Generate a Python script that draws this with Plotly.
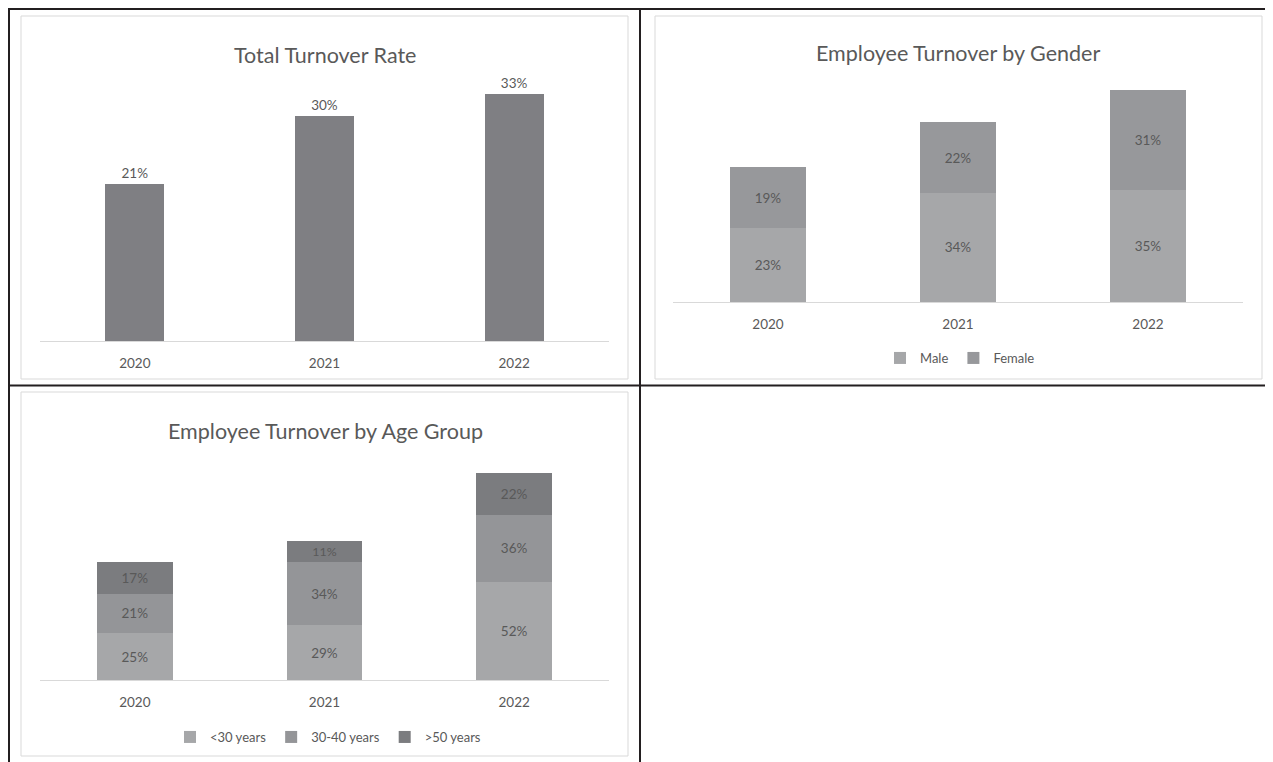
import plotly.graph_objects as go

# data
years = ["2020", "2021", "2022"]
total_rate = [21, 30, 33]

male = [23, 34, 35]
female = [19, 22, 31]

age_under30 = [25, 29, 52]
age_30_40 = [21, 34, 36]
age_over50 = [17, 11, 22]

# the html body has an 8px margin, so the figure is sized and positioned around it
OFF = 8
W, H = 1273 - OFF, 762 - OFF
FONT = "Lato"
TXT = "#595959"


def px(x):
    return (x - OFF) / W


def py(y):
    return 1 - (y - OFF) / H


def pct(vals):
    return [f"{v}%" for v in vals]


fig = go.Figure()

# chart 1 - total turnover
fig.add_trace(go.Bar(x=years, y=total_rate, text=pct(total_rate), textposition="outside",
                     marker=dict(color="#7f7f83", line=dict(width=0)), width=0.31,
                     cliponaxis=False, textfont=dict(color=TXT, size=13.5),
                     showlegend=False, xaxis="x", yaxis="y"))

# chart 2 - by gender
for name, vals, col in [("Male", male, "#a6a7a9"), ("Female", female, "#97989b")]:
    fig.add_trace(go.Bar(x=years, y=vals, name=name, text=pct(vals),
                         textposition="inside", insidetextanchor="middle",
                         marker=dict(color=col, line=dict(width=0)), width=0.4,
                         textfont=dict(color=TXT, size=13.5),
                         legend="legend", xaxis="x2", yaxis="y2"))

# chart 3 - by age group
for name, vals, col in [("<30 years", age_under30, "#a6a7a9"),
                        ("30-40 years", age_30_40, "#949598"),
                        (">50 years", age_over50, "#7b7c7f")]:
    fig.add_trace(go.Bar(x=years, y=vals, name=name, text=pct(vals),
                         textposition="inside", insidetextanchor="middle",
                         marker=dict(color=col, line=dict(width=0)), width=0.4,
                         textfont=dict(color=TXT, size=13.5),
                         legend="legend2", xaxis="x3", yaxis="y3"))

xcommon = dict(showline=True, linecolor="#d9d9d9", linewidth=1, showgrid=False,
               ticks="", ticklabelstandoff=10, fixedrange=True,
               tickfont=dict(color=TXT, size=13.5, family=FONT))
ycommon = dict(visible=False, showgrid=False, zeroline=False, fixedrange=True)

fig.update_layout(
    width=W, height=H,
    margin=dict(l=0, r=0, t=0, b=0),
    paper_bgcolor="white", plot_bgcolor="white",
    font=dict(family=FONT, color=TXT),
    barmode="stack",
    xaxis=dict(domain=[px(40), px(609)], anchor="y", **xcommon),
    yaxis=dict(domain=[py(341), py(78.5)], range=[0, 35], anchor="x", **ycommon),
    xaxis2=dict(domain=[px(673), px(1243)], anchor="y2", **xcommon),
    yaxis2=dict(domain=[py(302), py(77.3)], range=[0, 70], anchor="x2", **ycommon),
    xaxis3=dict(domain=[px(40), px(609)], anchor="y3", **xcommon),
    yaxis3=dict(domain=[py(680), py(454.4)], range=[0, 120], anchor="x3", **ycommon),
    legend=dict(orientation="h", x=px(960), xanchor="center", y=py(358), yanchor="middle",
                font=dict(size=13, color=TXT), itemwidth=30, traceorder="normal"),
    legend2=dict(orientation="h", x=px(328), xanchor="center", y=py(737), yanchor="middle",
                 font=dict(size=13, color=TXT), itemwidth=30, traceorder="normal"),
)

# chart titles
for text, x, y in [("Total Turnover Rate", 325, 55),
                   ("Employee Turnover by Gender", 958, 53),
                   ("Employee Turnover by Age Group", 325, 431)]:
    fig.add_annotation(text=text, x=px(x), y=py(y), xref="paper", yref="paper",
                       showarrow=False, xanchor="center", yanchor="middle",
                       font=dict(size=21.5, color=TXT, family=FONT))

# chart area frames
for x0, y0, x1, y1 in [(21, 16, 628, 379), (655, 16, 1262, 379), (21, 392, 628, 756)]:
    fig.add_shape(type="rect", xref="paper", yref="paper",
                  x0=px(x0), y0=py(y0), x1=px(x1), y1=py(y1),
                  line=dict(color="#d9d9d9", width=1))

# table borders
for x0, y0, x1, y1 in [(8, 9, 1273, 9), (8, 385.5, 1273, 385.5), (9, 9, 9, 762),
                       (640, 9, 640, 762)]:
    fig.add_shape(type="line", xref="paper", yref="paper",
                  x0=px(x0), y0=py(y0), x1=px(x1), y1=py(y1),
                  line=dict(color="#231f20", width=2))

fig.write_html("out.html")
